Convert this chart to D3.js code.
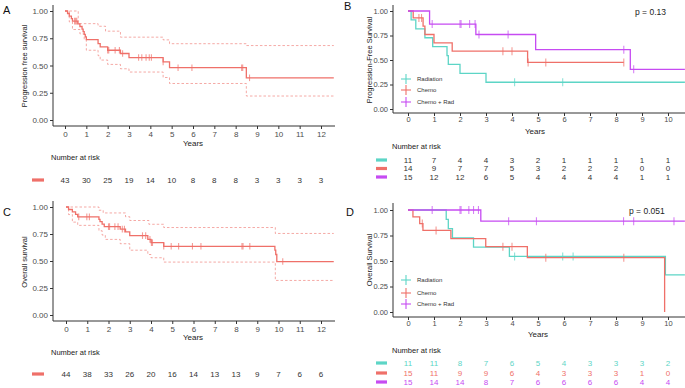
<!DOCTYPE html>
<html>
<head>
<meta charset="utf-8">
<script src="https://cdn.jsdelivr.net/npm/d3@7"></script>
<style>
  body { margin: 0; background: #fff; }
  svg { display: block; font-family: "Liberation Sans", Arial, sans-serif; }
</style>
</head>
<body>
<script>
// ---- data ----
const colRad = "#5DD5C6", colChemo = "#EF7069", colCR = "#C64BF2";

// A: progression free survival (all patients)
const aTime = [0, 0.12, 0.2, 0.3, 0.35, 0.6, 0.7, 0.8, 0.85, 0.9, 0.95, 1.0, 1.55, 1.65, 2.0, 2.6, 3.0, 4.6, 4.9, 8.5];
const aSurv = [1, 0.977, 0.953, 0.93, 0.907, 0.882, 0.858, 0.834, 0.81, 0.786, 0.762, 0.738, 0.70, 0.67, 0.64, 0.61, 0.573, 0.533, 0.48, 0.387];
const aCens = [0.45, 0.5, 0.55, 2.0, 2.05, 2.35, 2.55, 2.7, 3.45, 3.6, 3.8, 3.95, 4.05, 4.6, 5.3, 5.95, 8.28, 8.33, 8.65];
const aUpTime = [0, 0.62, 1.55, 1.9, 2.6, 4.6, 4.9, 8.5];
const aUpper = [1, 0.884, 0.86, 0.815, 0.76, 0.735, 0.70, 0.683];
const aLoTime = [0, 0.2, 0.35, 0.7, 0.9, 1.0, 1.55, 1.65, 2.0, 2.6, 3.0, 4.6, 4.9, 8.5];
const aLower = [1, 0.9, 0.83, 0.79, 0.74, 0.64, 0.59, 0.55, 0.51, 0.47, 0.44, 0.39, 0.335, 0.22];
const aRisk = [43, 30, 25, 19, 14, 10, 8, 8, 8, 3, 3, 3, 3];

// C: overall survival (all patients)
const cTime = [0, 0.12, 0.3, 0.45, 0.55, 1.55, 1.6, 1.7, 1.8, 2.55, 2.8, 3.0, 3.85, 4.0, 4.6, 9.83, 9.87, 9.92];
const cSurv = [1, 0.977, 0.955, 0.932, 0.909, 0.886, 0.864, 0.841, 0.818, 0.795, 0.77, 0.735, 0.70, 0.67, 0.636, 0.60, 0.56, 0.495];
const cCens = [0.6, 0.98, 1.1, 2.0, 2.05, 2.3, 2.45, 2.65, 2.75, 3.6, 3.75, 3.95, 4.02, 4.07, 4.6, 4.95, 5.3, 5.95, 6.35, 8.28, 8.33, 8.65, 10.2];
const cUpTime = [0, 1.55, 1.75, 2.8, 3.0, 3.9, 4.6, 9.85];
const cUpper = [1, 0.97, 0.945, 0.91, 0.875, 0.84, 0.81, 0.755];
const cLoTime = [0, 0.12, 0.3, 0.55, 1.55, 1.7, 1.85, 2.55, 3.0, 3.85, 4.0, 4.6, 9.85];
const cLower = [1, 0.93, 0.86, 0.83, 0.78, 0.74, 0.70, 0.66, 0.60, 0.56, 0.53, 0.49, 0.32];
const cRisk = [44, 38, 33, 26, 20, 16, 14, 13, 13, 9, 7, 6, 6];

// B: progression-free survival by treatment
const groups = ["Radiation", "Chemo", "Chemo + Rad"];
const bRadTime = [0, 0.12, 0.3, 0.65, 0.95, 1.5, 1.55, 2.0, 3.0];
const bRadSurv = [1, 0.909, 0.818, 0.727, 0.636, 0.545, 0.455, 0.364, 0.273];
const bRadCens = [4.1, 5.95];
const bChemoTime = [0, 0.2, 0.58, 0.65, 1.0, 1.7, 4.6];
const bChemoSurv = [1, 0.929, 0.845, 0.76, 0.675, 0.59, 0.475];
const bChemoCens = [0.42, 0.52, 3.65, 4.0, 4.62, 5.3, 8.3];
const bCRTime = [0, 0.83, 2.61, 4.91, 8.55];
const bCRSurv = [1, 0.867, 0.76, 0.605, 0.405];
const bCRCens = [0.93, 2.0, 2.04, 2.37, 2.58, 2.73, 3.85, 8.3, 8.68];
const bRisk = [[11, 7, 4, 4, 3, 2, 1, 1, 1, 1, 1], [14, 9, 7, 7, 5, 3, 2, 2, 2, 0, 0], [15, 12, 12, 6, 5, 4, 4, 4, 4, 1, 1]];

// D: overall survival by treatment
const dRadTime = [0, 1.47, 1.55, 1.71, 2.52, 3.9, 9.9];
const dRadSurv = [1, 0.909, 0.818, 0.727, 0.636, 0.545, 0.364];
const dRadCens = [4.1, 5.95, 6.35];
const dChemoTime = [0, 0.19, 0.45, 0.575, 1.65, 2.99, 4.59, 9.87];
const dChemoSurv = [1, 0.933, 0.867, 0.80, 0.72, 0.64, 0.533, 0];
const dChemoCens = [0.55, 1.08, 3.65, 4.0, 5.3, 8.3];
const dCRTime = [0, 2.8];
const dCRSurv = [1, 0.89];
const dCRCens = [0.93, 2.0, 2.04, 2.34, 2.52, 2.71, 3.87, 4.94, 8.29, 8.68, 10.23];
const dRisk = [[11, 11, 8, 7, 6, 5, 4, 3, 3, 3, 2], [15, 11, 9, 9, 6, 4, 3, 3, 3, 1, 0], [15, 14, 14, 8, 7, 6, 6, 6, 6, 4, 4]];

const yTicks = [0, 0.25, 0.5, 0.75, 1];

// ---- drawing ----
const svg = d3.select("body").append("svg")
    .attr("width", 685).attr("height", 388);

function stepAt(times, surv, t) {
    let s = surv[0];
    for (let i = 0; i < times.length; i++) if (times[i] <= t) s = surv[i];
    return s;
}

function stepPoints(times, surv, end) {
    const pts = times.map((t, i) => [t, surv[i]]);
    pts.push([end, surv[surv.length - 1]]);
    return pts;
}

function drawPanel(p) {
    const g = svg.append("g");
    const x = d3.scaleLinear().domain([0, p.xMax]).range(p.xRange);
    const y = d3.scaleLinear().domain([0, 1]).range(p.yRange);
    const line = d3.line().x(d => x(d[0])).y(d => y(d[1])).curve(d3.curveStepAfter);

    // axes
    const xa = g.append("g").attr("transform", "translate(0," + p.axisY + ")")
        .call(d3.axisBottom(x).tickValues(d3.range(0, p.xMax + 1)).tickSize(3).tickPadding(p.tickPad).tickFormat(d3.format("d")));
    const ya = g.append("g").attr("transform", "translate(" + p.axisX + ",0)")
        .call(d3.axisLeft(y).tickValues(yTicks).tickSize(3).tickPadding(2).tickFormat(d3.format(".2f")));
    [xa, ya].forEach(a => {
        a.select(".domain").remove();
        a.selectAll("line").attr("stroke", "#333");
        a.selectAll("text").attr("fill", "#4d4d4d").style("font-size", p.tickFont + "px").attr("font-family", null);
    });
    g.append("line").attr("x1", p.axisX).attr("x2", p.axisX).attr("y1", p.yTop).attr("y2", p.axisY)
        .attr("stroke", "#333").attr("stroke-width", 1);
    g.append("line").attr("x1", p.axisX).attr("x2", p.xEnd).attr("y1", p.axisY).attr("y2", p.axisY)
        .attr("stroke", "#333").attr("stroke-width", 1);

    // confidence bands (dashed)
    (p.ci || []).forEach(c => {
        g.append("path").attr("d", line(stepPoints(c.time, c.surv, c.end)))
            .attr("fill", "none").attr("stroke", c.color).attr("stroke-opacity", 0.75)
            .attr("stroke-width", 0.8).attr("stroke-dasharray", "2.5,2");
    });

    // curves + censor marks
    p.curves.forEach(c => {
        g.append("path").attr("d", line(stepPoints(c.time, c.surv, c.end)))
            .attr("fill", "none").attr("stroke", c.color).attr("stroke-width", 1.3);
        g.selectAll(null).data(c.cens).enter().append("line")
            .attr("x1", d => x(d)).attr("x2", d => x(d))
            .attr("y1", d => y(stepAt(c.time, c.surv, d)) - p.tick)
            .attr("y2", d => y(stepAt(c.time, c.surv, d)) + p.tick)
            .attr("stroke", c.color).attr("stroke-opacity", 0.7).attr("stroke-width", 1.1);
    });

    // titles
    g.append("text").attr("transform", "translate(" + p.yTitleX + "," + p.yTitleY + ") rotate(-90)")
        .attr("text-anchor", "middle").attr("dy", "0.35em").style("font-size", "7.5px").attr("fill", "#222")
        .text(p.yTitle);
    g.append("text").attr("x", p.yearsX).attr("y", p.yearsY).attr("dy", "0.35em")
        .attr("text-anchor", "middle").style("font-size", "8px").attr("fill", "#222").text("Years");
    g.append("text").attr("x", p.letterX).attr("y", p.letterY)
        .style("font-size", "11px").attr("fill", "#111").text(p.letter);
    if (p.pval) {
        g.append("text").attr("x", p.pX).attr("y", p.pY).attr("dy", "0.35em")
            .style("font-size", "8.5px").attr("fill", "#222").text(p.pval);
    }

    // in-plot legend
    if (p.legendY) {
        p.curves.forEach((c, i) => {
            const ly = p.legendY[i];
            g.append("line").attr("x1", p.legendX - 5).attr("x2", p.legendX + 5).attr("y1", ly).attr("y2", ly)
                .attr("stroke", c.color).attr("stroke-width", 1.1);
            g.append("line").attr("x1", p.legendX).attr("x2", p.legendX).attr("y1", ly - 5).attr("y2", ly + 5)
                .attr("stroke", c.color).attr("stroke-width", 1.1);
            g.append("text").attr("x", p.legendX + 11).attr("y", ly).attr("dy", "0.35em")
                .style("font-size", "6px").attr("fill", "#333").text(groups[i]);
        });
    }

    // number at risk table
    g.append("text").attr("x", p.nrX).attr("y", p.nrY).attr("dy", "0.35em")
        .style("font-size", "7.5px").attr("fill", "#222").text("Number at risk");
    p.risk.forEach((row, i) => {
        const ry = p.riskY[i];
        g.append("line").attr("x1", p.barX[0]).attr("x2", p.barX[1]).attr("y1", ry).attr("y2", ry)
            .attr("stroke", p.curves[i].color).attr("stroke-width", 3.2);
        g.selectAll(null).data(row).enter().append("text")
            .attr("x", (d, j) => x(j)).attr("y", ry).attr("dy", "0.35em")
            .attr("text-anchor", "middle").style("font-size", "8px")
            .attr("fill", p.riskColored ? p.curves[i].color : "#333")
            .text(d => d);
    });
}

drawPanel({
    letter: "A", letterX: 3, letterY: 14,
    xMax: 12, xRange: [65, 321], yRange: [120, 11], axisX: 53, axisY: 126, yTop: 5, xEnd: 335,
    tickPad: 2, tickFont: 8, tick: 3.3,
    yTitle: "Progression free survival", yTitleX: 24, yTitleY: 66,
    yearsX: 193, yearsY: 143,
    ci: [{ time: aUpTime, surv: aUpper, end: 12.6, color: colChemo },
         { time: aLoTime, surv: aLower, end: 12.6, color: colChemo }],
    curves: [{ time: aTime, surv: aSurv, cens: aCens, end: 12.6, color: colChemo }],
    nrX: 51, nrY: 157, risk: [aRisk], riskY: [180], barX: [32, 44]
});

drawPanel({
    letter: "B", letterX: 344, letterY: 10,
    xMax: 10, xRange: [408, 668], yRange: [109, 11], axisX: 393, axisY: 113, yTop: 5, xEnd: 685,
    tickPad: 1, tickFont: 7.5, tick: 4,
    yTitle: "Progression-Free Survival", yTitleX: 369, yTitleY: 60,
    yearsX: 535, yearsY: 131,
    pval: "p = 0.13", pX: 635, pY: 12,
    curves: [{ time: bRadTime, surv: bRadSurv, cens: bRadCens, end: 10.65, color: colRad },
             { time: bChemoTime, surv: bChemoSurv, cens: bChemoCens, end: 8.3, color: colChemo },
             { time: bCRTime, surv: bCRSurv, cens: bCRCens, end: 10.65, color: colCR }],
    legendX: 406, legendY: [79, 90, 102],
    nrX: 392, nrY: 146, risk: bRisk, riskY: [160, 168.5, 177], barX: [376, 387]
});

drawPanel({
    letter: "C", letterX: 3, letterY: 216,
    xMax: 12, xRange: [66, 321], yRange: [315, 207], axisX: 53, axisY: 321, yTop: 201, xEnd: 335,
    tickPad: 2, tickFont: 8, tick: 3.3,
    yTitle: "Overall survival", yTitleX: 24, yTitleY: 262,
    yearsX: 193, yearsY: 337,
    ci: [{ time: cUpTime, surv: cUpper, end: 12.6, color: colChemo },
         { time: cLoTime, surv: cLower, end: 12.6, color: colChemo }],
    curves: [{ time: cTime, surv: cSurv, cens: cCens, end: 12.6, color: colChemo }],
    nrX: 51, nrY: 352, risk: [cRisk], riskY: [374], barX: [32, 44]
});

drawPanel({
    letter: "D", letterX: 346, letterY: 216,
    xMax: 10, xRange: [408, 668], yRange: [312, 210], axisX: 393, axisY: 317, yTop: 203, xEnd: 685,
    tickPad: 1, tickFont: 7.5, tick: 4,
    yTitle: "Overall Survival", yTitleX: 369, yTitleY: 260,
    yearsX: 538, yearsY: 334,
    pval: "p = 0.051", pX: 629, pY: 211,
    curves: [{ time: dRadTime, surv: dRadSurv, cens: dRadCens, end: 10.65, color: colRad },
             { time: dChemoTime, surv: dChemoSurv, cens: dChemoCens, end: 9.87, color: colChemo },
             { time: dCRTime, surv: dCRSurv, cens: dCRCens, end: 10.65, color: colCR }],
    legendX: 406, legendY: [280, 293, 304],
    nrX: 392, nrY: 350, risk: dRisk, riskY: [363, 373, 382], barX: [376, 387], riskColored: true
});
</script>
</body>
</html>
